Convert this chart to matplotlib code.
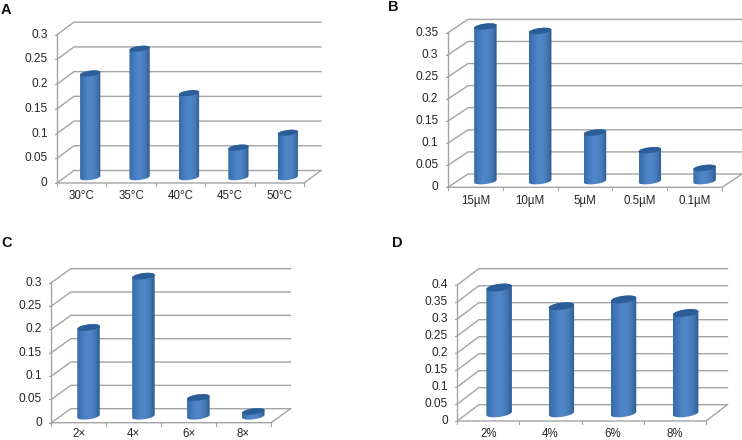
import numpy as np
import matplotlib
matplotlib.use('Agg')
import matplotlib.pyplot as plt
from matplotlib.colors import LinearSegmentedColormap
from matplotlib.patches import Polygon

plt.rcParams['font.family'] = ['Liberation Sans', 'DejaVu Sans']

W, H = 742, 440

# Data
labels_a = ['30°C', '35°C', '40°C', '45°C', '50°C']
values_a = [0.21, 0.26, 0.17, 0.06, 0.09]
ticks_a = [0, 0.05, 0.1, 0.15, 0.2, 0.25, 0.3]

labels_b = ['15µM', '10µM', '5µM', '0.5µM', '0.1µM']
values_b = [0.35, 0.34, 0.11, 0.07, 0.03]
ticks_b = [0, 0.05, 0.1, 0.15, 0.2, 0.25, 0.3, 0.35]

labels_c = ['2×', '4×', '6×', '8×']
values_c = [0.19, 0.30, 0.04, 0.01]
ticks_c = [0, 0.05, 0.1, 0.15, 0.2, 0.25, 0.3]

labels_d = ['2%', '4%', '6%', '8%']
values_d = [0.37, 0.315, 0.335, 0.295]
ticks_d = [0, 0.05, 0.1, 0.15, 0.2, 0.25, 0.3, 0.35, 0.4]

grid_col = '#a4a4a4'
text_col = '#262626'
cyl = LinearSegmentedColormap.from_list('cyl', ['#376ba8', '#4379ba', '#4f86c8', '#4e85c6', '#4577b4', '#2d5c94'])
grad = np.linspace(0, 1, 64).reshape(1, -1)

fig = plt.figure(figsize=(W / 100, H / 100), dpi=100)


def panel(letter, letter_xy, labels, values, ticks, left, right, bottom, top, depth, label_pad=13.3):
    # left/right/bottom/top are pixels of the front plane, depth is (dx, dy) in pixels
    ax = fig.add_axes([left / W, 1 - bottom / H, (right - left) / W, (bottom - top) / H])
    n = len(labels)
    ymax = ticks[-1]
    ax.set_xlim(0, n)
    ax.set_ylim(0, ymax)
    ax.axis('off')

    # pixel -> data units
    ux = n / (right - left)
    uy = ymax / (bottom - top)
    dx = depth[0] * ux
    dy = depth[1] * uy

    # walls
    for t in ticks:
        ax.plot([0, dx, n + dx], [t, t + dy, t + dy], color=grid_col, lw=1.0, clip_on=False, solid_joinstyle='miter')
        ax.plot([-2.5 * ux, 0], [t, t], color=grid_col, lw=0.8, clip_on=False)
    ax.plot([0, 0], [0, ymax], color=grid_col, lw=1.0, clip_on=False)
    ax.plot([0, n, n + dx], [0, 0, dy], color=grid_col, lw=1.0, clip_on=False)
    for i in range(n + 1):
        ax.plot([i, i], [0, -3 * uy], color=grid_col, lw=0.8, clip_on=False)

    # cylinders
    a = 0.205
    b = depth[1] * 0.22 * uy
    tilt = depth[1] * 0.10 * uy
    th = np.linspace(0, 2 * np.pi, 90)
    for i, v in enumerate(values):
        cx = i + 0.5 + dx / 2
        cy = dy / 2 - 0.5 * uy
        th_low = np.linspace(np.pi, 2 * np.pi, 45)
        th_up = np.linspace(0, np.pi, 45)
        low = np.c_[cx + a * np.cos(th_low), cy + b * np.sin(th_low) + tilt * np.cos(th_low)]
        up = np.c_[cx + a * np.cos(th_up), cy + v + b * np.sin(th_up) + tilt * np.cos(th_up)]
        body = Polygon(np.r_[low, up], closed=True, fc='none', ec='none', clip_on=False)
        ax.add_patch(body)
        im = ax.imshow(grad, cmap=cyl, aspect='auto', extent=[cx - a, cx + a, cy - 2 * b, cy + v + 2 * b],
                       interpolation='bilinear', zorder=3)
        im.set_clip_box(fig.bbox)
        im.set_clip_path(body)
        ax.fill(cx + a * np.cos(th), cy + v + b * np.sin(th) + tilt * np.cos(th), color='#2b5e98', lw=0,
                zorder=4, clip_on=False)

    ax.set_xlim(0, n)
    ax.set_ylim(0, ymax)

    # labels
    for t in ticks:
        ax.text(-9.5 * ux, t, '%g' % t, ha='right', va='center', fontsize=8.6, color=text_col, clip_on=False)
    for i, lab in enumerate(labels):
        ax.text(i + 0.5, -label_pad * uy, lab, ha='center', va='center', fontsize=8.3, color=text_col, clip_on=False)
    fig.text(letter_xy[0] / W, 1 - letter_xy[1] / H, letter, fontsize=10.5, fontweight='bold', color='#111111',
             ha='left', va='center')


panel('A', (1, 10), labels_a, values_a, ticks_a, 57, 304, 183, 34.7, (17, 12.5))
panel('B', (388, 7), labels_b, values_b, ticks_b, 448, 722, 187.3, 32.7, (20, 13.3))
panel('C', (1, 243), labels_c, values_c, ticks_c, 51.3, 271, 422.7, 282.7, (19.5, 14), label_pad=11.4)
panel('D', (392, 243), labels_d, values_d, ticks_d, 457.3, 706, 421, 285, (21.5, 16.3))

fig.savefig('out.png', dpi=100)
